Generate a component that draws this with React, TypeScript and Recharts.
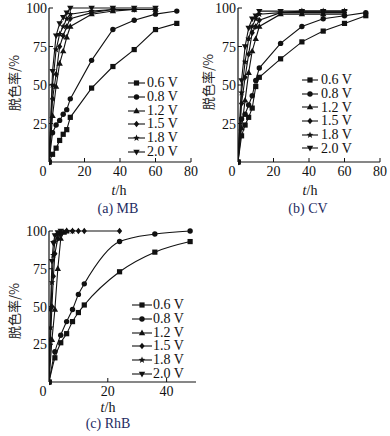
import React from "react";
import { LineChart, Line, XAxis, YAxis } from "recharts";

const FONT = '"Liberation Serif", "Times New Roman", serif';
const INK = "#111";
const CAPTION = "#1e2c62";

const voltageLabels = ["0.6 V", "0.8 V", "1.2 V", "1.5 V", "1.8 V", "2.0 V"];
const markerKinds = ["square", "circle", "triangle", "diamond", "star", "triangleDown"];

// (a) MB
const mbSlowT = [0, 2, 4, 6, 8, 10, 12, 24, 36, 48, 60, 72];
const mbFastT = [0, 2, 4, 6, 8, 10, 12, 24, 36, 48, 60];
const mb06 = [0, 5, 9, 14, 18, 21, 29, 48, 62, 73, 86, 90];
const mb08 = [0, 19, 24, 27, 31, 34, 41, 66, 86, 92, 96, 98];
const mb12 = [0, 30, 49, 64, 72, 81, 88, 96, 98, 99, 99];
const mb15 = [0, 41, 57, 75, 82, 88, 93, 97, 99, 99, 99];
const mb18 = [0, 50, 73, 83, 88, 93, 96, 98, 99, 99, 99];
const mb20 = [0, 59, 82, 90, 94, 97, 100, 100, 100, 100, 100];

// (b) CV
const cvSlowT = [0, 2, 4, 6, 8, 10, 12, 24, 36, 48, 60, 72];
const cvFastT = [0, 2, 4, 6, 8, 10, 12, 24, 36, 48, 60];
const cv06 = [0, 17, 24, 29, 35, 49, 55, 67, 78, 85, 90, 95];
const cv08 = [0, 28, 31, 37, 43, 53, 61, 77, 88, 93, 95, 97];
const cv12 = [0, 22, 40, 58, 72, 80, 88, 96, 96, 96, 96];
const cv15 = [0, 38, 55, 70, 84, 88, 92, 97, 97, 97, 97];
const cv18 = [0, 45, 65, 80, 88, 93, 96, 97, 98, 98, 98];
const cv20 = [0, 53, 75, 87, 93, 95, 98, 98, 98, 98, 98];

// (c) RhB
const rhbSlowT = [0, 2, 4, 6, 8, 10, 12, 24, 36, 48];
const rhb06 = [0, 16, 26, 32, 40, 46, 51, 73, 86, 93];
const rhb08 = [0, 20, 31, 40, 48, 58, 65, 93, 98, 100];
const rhb12T = [0, 1, 2, 3, 4, 5, 6];
const rhb12 = [0, 28, 48, 75, 95, 99, 100];
const rhb15T = [0, 0.5, 1, 1.5, 2, 3, 4, 6, 8, 10, 12, 24];
const rhb15 = [0, 28, 50, 70, 85, 95, 98, 100, 100, 100, 100, 100];
const rhb18T = [0, 0.5, 1, 1.5, 2, 3, 4, 6, 8];
const rhb18 = [0, 36, 66, 84, 93, 98, 99, 100, 100];
const rhb20T = [0, 0.5, 1, 1.5, 2, 3, 4];
const rhb20 = [0, 48, 80, 92, 97, 99, 100];

const yTicks = [25, 50, 75, 100];

type Pt = { t: number; v: number };
const zip = (ts: number[], vs: number[]): Pt[] => ts.map((t, i) => ({ t, v: vs[i] }));

function starPath(x: number, y: number, R: number, r: number) {
  let d = "";
  for (let i = 0; i < 10; i++) {
    const a = -Math.PI / 2 + (i * Math.PI) / 5;
    const rad = i % 2 === 0 ? R : r;
    d += (i === 0 ? "M" : "L") + (x + rad * Math.cos(a)).toFixed(2) + "," + (y + rad * Math.sin(a)).toFixed(2);
  }
  return d + "Z";
}

function Marker({ kind, x, y }: { kind: string; x: number; y: number }) {
  switch (kind) {
    case "square":
      return <rect x={x - 2.6} y={y - 2.6} width={5.2} height={5.2} fill={INK} />;
    case "circle":
      return <circle cx={x} cy={y} r={2.7} fill={INK} />;
    case "triangle":
      return <path d={`M${x},${y - 3.4}L${x + 3.2},${y + 2.2}L${x - 3.2},${y + 2.2}Z`} fill={INK} />;
    case "triangleDown":
      return <path d={`M${x},${y + 3.4}L${x + 3.2},${y - 2.2}L${x - 3.2},${y - 2.2}Z`} fill={INK} />;
    case "diamond":
      return <path d={`M${x},${y - 3.3}L${x + 2.6},${y}L${x},${y + 3.3}L${x - 2.6},${y}Z`} fill={INK} />;
    default:
      return <path d={starPath(x, y, 3.6, 1.5)} fill={INK} />;
  }
}

const renderDot = (kind: string) => (props: any) => {
  const { cx, cy, index } = props;
  if (cx == null || cy == null) return <g key={index} />;
  return (
    <g key={index}>
      <Marker kind={kind} x={cx} y={cy} />
    </g>
  );
};

function XTick(props: any) {
  const { x, y, payload } = props;
  const v = payload.value;
  const axisY = y - 3;
  return (
    <g>
      {v !== 0 && <line x1={x} x2={x} y1={axisY} y2={axisY - 4} stroke={INK} />}
      <text x={v === 0 ? x - 6 : x} y={y} dy="0.78em" textAnchor="middle" fontSize={14} fontFamily={FONT} fill={INK}>
        {v}
      </text>
    </g>
  );
}

function YTick(props: any) {
  const { x, y, payload } = props;
  const axisX = x + 2;
  return (
    <g>
      <line x1={axisX} x2={axisX + 4} y1={y} y2={y} stroke={INK} />
      <text x={x} y={y} dy="0.36em" textAnchor="end" fontSize={14} fontFamily={FONT} fill={INK}>
        {payload.value}
      </text>
    </g>
  );
}

function LegendBox({ x, y, rowH, iconW, gap }: { x: number; y: number; rowH: number; iconW: number; gap: number }) {
  return (
    <div style={{ position: "absolute", left: x, top: y }}>
      {voltageLabels.map((lab, i) => (
        <div key={lab} style={{ display: "flex", alignItems: "center", height: rowH }}>
          <svg width={iconW} height={10} style={{ display: "block" }}>
            <line x1={0} x2={iconW} y1={5} y2={5} stroke={INK} strokeWidth={1.1} />
            <Marker kind={markerKinds[i]} x={iconW / 2} y={5} />
          </svg>
          <span style={{ marginLeft: gap, fontSize: 14, lineHeight: `${rowH}px`, whiteSpace: "nowrap", color: INK }}>
            {lab}
          </span>
        </div>
      ))}
    </div>
  );
}

type PanelProps = {
  left: number;
  top: number;
  width: number;
  height: number;
  marginTop: number;
  marginRight: number;
  xMax: number;
  xTicks: number[];
  series: Pt[][];
  curves: ("linear" | "monotone")[];
  legend: { x: number; y: number; rowH: number; iconW: number; gap: number };
  yLabel: { x: number; y: number };
  xLabel: { x: number; y: number };
  caption: { x: number; y: number; text: string };
};

function Panel(p: PanelProps) {
  return (
    <>
      <div style={{ position: "absolute", left: p.left, top: p.top }}>
        <LineChart width={p.width} height={p.height} margin={{ top: p.marginTop, right: p.marginRight, bottom: 0, left: 0 }}>
          <XAxis
            dataKey="t"
            type="number"
            domain={[0, p.xMax]}
            ticks={p.xTicks}
            interval={0}
            height={20}
            tickSize={0}
            tickMargin={3}
            tickLine={false}
            axisLine={{ stroke: INK, strokeWidth: 1.2 }}
            tick={<XTick />}
            allowDataOverflow
          />
          <YAxis
            type="number"
            domain={[0, 100]}
            ticks={yTicks}
            interval={0}
            width={49}
            tickSize={0}
            tickMargin={2}
            tickLine={false}
            axisLine={{ stroke: INK, strokeWidth: 1.2 }}
            tick={<YTick />}
          />
          {p.series.map((data, i) => (
            <Line
              key={voltageLabels[i]}
              data={data}
              dataKey="v"
              type={p.curves[i]}
              stroke={INK}
              strokeWidth={1.1}
              dot={renderDot(markerKinds[i])}
              activeDot={false}
              isAnimationActive={false}
            />
          ))}
        </LineChart>
      </div>
      <LegendBox {...p.legend} />
      <div
        style={{
          position: "absolute",
          left: p.yLabel.x,
          top: p.yLabel.y,
          transform: "translate(-50%, -50%) rotate(-90deg)",
          fontSize: 13,
          whiteSpace: "nowrap",
          fontFamily: '"Noto Sans CJK SC", "Liberation Serif", serif',
          color: "#222",
        }}
      >
        脱色率/%
      </div>
      <div
        style={{
          position: "absolute",
          left: p.xLabel.x,
          top: p.xLabel.y,
          transform: "translate(-50%, -50%)",
          fontSize: 14,
          whiteSpace: "nowrap",
          color: INK,
        }}
      >
        <i>t</i>/h
      </div>
      <div
        style={{
          position: "absolute",
          left: p.caption.x,
          top: p.caption.y,
          transform: "translate(-50%, -50%)",
          fontSize: 14,
          whiteSpace: "nowrap",
          color: CAPTION,
        }}
      >
        {p.caption.text}
      </div>
    </>
  );
}

const mbSeries = [zip(mbSlowT, mb06), zip(mbSlowT, mb08), zip(mbFastT, mb12), zip(mbFastT, mb15), zip(mbFastT, mb18), zip(mbFastT, mb20)];
const cvSeries = [zip(cvSlowT, cv06), zip(cvSlowT, cv08), zip(cvFastT, cv12), zip(cvFastT, cv15), zip(cvFastT, cv18), zip(cvFastT, cv20)];
const rhbSeries = [zip(rhbSlowT, rhb06), zip(rhbSlowT, rhb08), zip(rhb12T, rhb12), zip(rhb15T, rhb15), zip(rhb18T, rhb18), zip(rhb20T, rhb20)];

export default function App() {
  return (
    <div
      style={{
        position: "absolute",
        left: 0,
        top: 0,
        width: 390,
        height: 436,
        background: "#fff",
        fontFamily: FONT,
        overflow: "hidden",
      }}
    >
      <Panel
        left={0}
        top={0}
        width={204}
        height={182}
        marginTop={8}
        marginRight={13}
        xMax={80}
        xTicks={[0, 20, 40, 60, 80]}
        series={mbSeries}
        curves={["linear", "linear", "linear", "linear", "linear", "linear"]}
        legend={{ x: 128, y: 75.8, rowH: 13.9, iconW: 17, gap: 2 }}
        yLabel={{ x: 13, y: 83 }}
        xLabel={{ x: 119, y: 191 }}
        caption={{ x: 118, y: 209, text: "(a) MB" }}
      />
      <Panel
        left={189}
        top={0}
        width={201}
        height={182}
        marginTop={8}
        marginRight={10}
        xMax={80}
        xTicks={[0, 20, 40, 60, 80]}
        series={cvSeries}
        curves={["linear", "linear", "linear", "linear", "linear", "linear"]}
        legend={{ x: 302, y: 73.2, rowH: 13.7, iconW: 16, gap: 3 }}
        yLabel={{ x: 207, y: 82 }}
        xLabel={{ x: 310, y: 191 }}
        caption={{ x: 308, y: 209, text: "(b) CV" }}
      />
      <Panel
        left={0}
        top={222}
        width={198}
        height={180}
        marginTop={9}
        marginRight={2}
        xMax={50}
        xTicks={[0, 20, 40]}
        series={rhbSeries}
        curves={["monotone", "monotone", "linear", "linear", "linear", "linear"]}
        legend={{ x: 132, y: 298.1, rowH: 13.8, iconW: 20, gap: 1 }}
        yLabel={{ x: 13, y: 311 }}
        xLabel={{ x: 108, y: 408 }}
        caption={{ x: 108, y: 424, text: "(c) RhB" }}
      />
    </div>
  );
}
